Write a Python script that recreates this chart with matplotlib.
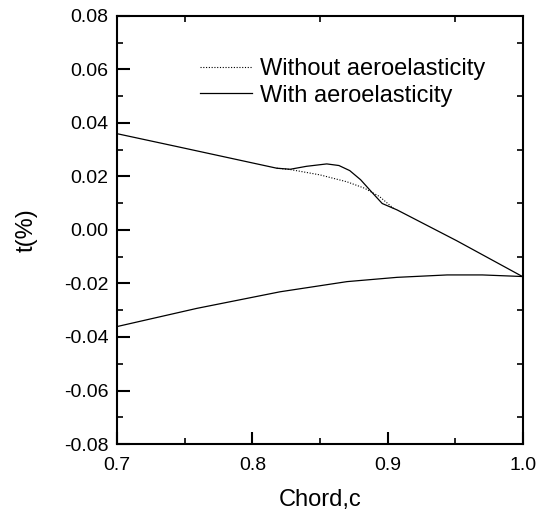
import numpy as np
import matplotlib
matplotlib.use('Agg')
import matplotlib.pyplot as plt
from matplotlib.ticker import MultipleLocator

plt.rcParams['font.family'] = ['Liberation Sans', 'DejaVu Sans']

# upper surface, with aeroelasticity
x_with = [0.70, 0.746, 0.818, 0.828, 0.840, 0.855, 0.864, 0.872, 0.880, 0.888, 0.896, 0.907, 0.951, 1.00]
t_with = [0.036, 0.031, 0.0231, 0.0227, 0.0238, 0.0247, 0.0241, 0.0222, 0.0188, 0.0143, 0.0099, 0.0075, -0.0040, -0.0175]

# upper surface, without aeroelasticity (only differs in the bump region)
x_without = [0.818, 0.828, 0.850, 0.870, 0.883, 0.894, 0.905]
t_without = [0.0231, 0.0226, 0.0206, 0.0180, 0.0156, 0.0125, 0.0078]

# lower surface (same for both cases)
x_lower = [0.70, 0.759, 0.8205, 0.870, 0.907, 0.944, 0.970, 1.00]
t_lower = [-0.0361, -0.0293, -0.0231, -0.0193, -0.0177, -0.0168, -0.0168, -0.0174]

fig = plt.figure(figsize=(5.38, 5.12), dpi=100)
ax = fig.add_axes([0.2175, 0.1328, 0.7545, 0.836])

ax.plot(x_without, t_without, color='black', linestyle=(0, (1, 1.5)), linewidth=0.8,
        label='Without aeroelasticity')
ax.plot(x_with, t_with, color='black', linewidth=0.9, label='With aeroelasticity')
ax.plot(x_lower, t_lower, color='black', linewidth=0.9)

ax.set_xlim(0.7, 1.0)
ax.set_ylim(-0.08, 0.08)
ax.xaxis.set_major_locator(MultipleLocator(0.1))
ax.xaxis.set_minor_locator(MultipleLocator(0.05))
ax.yaxis.set_major_locator(MultipleLocator(0.02))
ax.yaxis.set_minor_locator(MultipleLocator(0.01))
ax.xaxis.set_major_formatter(plt.FuncFormatter(lambda v, p: f'{v:.1f}'))
ax.yaxis.set_major_formatter(plt.FuncFormatter(lambda v, p: f'{v:.2f}'))

for s in ax.spines.values():
    s.set_linewidth(1.5)
ax.tick_params(which='major', direction='in', length=9, width=1.5, labelsize=14,
               top=False, right=False)
ax.tick_params(which='minor', direction='in', length=4, width=1.2, top=True, right=True)
ax.tick_params(axis='x', pad=9)
ax.tick_params(axis='y', pad=6)

ax.set_xlabel('Chord,c', fontsize=17)
ax.set_ylabel('t(%)', fontsize=17)
ax.xaxis.set_label_coords(0.5, -0.104)
ax.yaxis.set_label_coords(-0.195, 0.5)

ax.legend(loc='upper left', bbox_to_anchor=(0.204, 0.902), frameon=False, fontsize=17,
          handlelength=2.2, handletextpad=0.35, labelspacing=0.2, borderaxespad=0,
          borderpad=0)

fig.savefig('out.png', dpi=100)
